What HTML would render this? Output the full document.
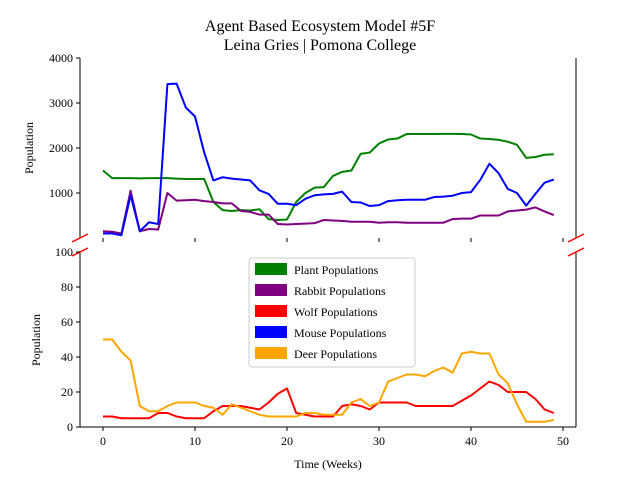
<!DOCTYPE html>
<html><head><meta charset="utf-8"><style>
body{margin:0;background:#fff}
svg{font-family:"Liberation Serif",serif}
</style></head><body>
<svg id="c" width="640" height="480"></svg>
<script>
const weeks=[...Array(50).keys()];
const plant=[1500,1330,1330,1330,1325,1330,1330,1330,1320,1310,1310,1310,800,620,600,620,610,640,420,400,410,800,1000,1120,1130,1380,1470,1500,1870,1900,2100,2190,2210,2310,2310,2310,2310,2315,2315,2310,2300,2210,2200,2180,2140,2070,1780,1800,1850,1860];
const rabbit=[150,140,100,1050,150,200,190,1000,830,840,850,820,800,770,770,600,580,520,520,310,300,310,320,330,400,390,380,360,360,360,340,350,350,340,340,340,340,340,420,430,430,500,500,500,590,610,630,680,590,510];
const mouse=[100,100,60,950,150,350,310,3420,3430,2900,2700,1900,1280,1350,1320,1300,1280,1060,980,760,760,730,870,950,970,980,1030,800,790,710,730,820,840,850,850,850,910,920,940,1000,1020,1290,1650,1440,1090,1000,720,980,1230,1300];
const wolf=[6,6,5,5,5,5,8,8,6,5,5,5,9,12,12,12,11,10,14,19,22,8,7,6,6,6,12,13,12,10,14,14,14,14,12,12,12,12,12,15,18,22,26,24,20,20,20,16,10,8];
const deer=[50,50,43,38,12,9,9,12,14,14,14,12,11,7,13,11,9,7,6,6,6,6,8,8,7,7,7,14,16,12,14,26,28,30,30,29,32,34,31,42,43,42,42,30,25,13,3,3,3,4];
const xTicks=[0,10,20,30,40,50];
const topTicks=[1000,2000,3000,4000];
const botTicks=[0,20,40,60,80,100];
const NS='http://www.w3.org/2000/svg';
const svg=document.getElementById('c');
function el(t,a,p){const e=document.createElementNS(NS,t);for(const k in a)e.setAttribute(k,a[k]);(p||svg).appendChild(e);return e;}
const X=v=>103+v*9.2;
const YT=v=>238-v*0.045;
const YB=v=>427-v*1.75;
const L=80,R=576;
// title
let t=el('text',{x:320,y:31,'text-anchor':'middle','font-size':16});t.textContent='Agent Based Ecosystem Model #5F';

t=el('text',{x:320,y:50,'text-anchor':'middle','font-size':16});t.textContent='Leina Gries | Pomona College';

// axes spines
let a=el('line',{x1:L,y1:58,x2:L,y2:238,stroke:'#000'});
a=el('line',{x1:R,y1:58,x2:R,y2:238,stroke:'#000'});
a=el('line',{x1:L,y1:252,x2:L,y2:427,stroke:'#000'});
a=el('line',{x1:R,y1:252,x2:R,y2:427,stroke:'#000'});
a=el('line',{x1:L,y1:427,x2:R,y2:427,stroke:'#000'});
// break marks
[[L,238],[R,238],[L,252],[R,252]].forEach(p=>{
 const b=el('line',{x1:p[0]-8,y1:p[1]+4,x2:p[0]+8,y2:p[1]-4,stroke:'red','stroke-width':1.5});
 
});
// x ticks
xTicks.forEach(v=>{
 el('line',{x1:X(v),y1:427,x2:X(v),y2:431,stroke:'#000'});
 el('line',{x1:X(v),y1:238,x2:X(v),y2:242,stroke:'#000'});
 const tx=el('text',{x:X(v),y:445,'text-anchor':'middle','font-size':12});tx.textContent=v;
 
});
topTicks.forEach(v=>{
 el('line',{x1:L-4,y1:YT(v),x2:L,y2:YT(v),stroke:'#000'});
 const tx=el('text',{x:L-7,y:YT(v)+4,'text-anchor':'end','font-size':12});tx.textContent=v;
 
});
botTicks.forEach(v=>{
 el('line',{x1:L-4,y1:YB(v),x2:L,y2:YB(v),stroke:'#000'});
 const tx=el('text',{x:L-7,y:YB(v)+4,'text-anchor':'end','font-size':12});tx.textContent=v;
 
});
t=el('text',{x:0,y:0,'text-anchor':'middle','font-size':12,transform:'translate(33,148) rotate(-90)'});t.textContent='Population';

t=el('text',{x:0,y:0,'text-anchor':'middle','font-size':12,transform:'translate(40,340) rotate(-90)'});t.textContent='Population';

t=el('text',{x:328,y:468,'text-anchor':'middle','font-size':12});t.textContent='Time (Weeks)';

function line(d,Y,c,name){
 const p=el('polyline',{points:d.map((v,i)=>X(weeks[i])+','+Y(v)).join(' '),fill:'none',stroke:c,'stroke-width':2,'stroke-linejoin':'round'});
 
}
line(plant,YT,'green','plant-line');
line(rabbit,YT,'purple','rabbit-line');
line(mouse,YT,'blue','mouse-line');
line(wolf,YB,'red','wolf-line');
line(deer,YB,'orange','deer-line');
// legend
const lg=el('g',{});
el('rect',{x:249,y:258,width:166,height:109,rx:3,fill:'#fff',stroke:'#ccc','fill-opacity':0.8},lg);
[['Plant Populations','green'],['Rabbit Populations','purple'],['Wolf Populations','red'],['Mouse Populations','blue'],['Deer Populations','orange']].forEach((e,i)=>{
 const y=263+i*21;
 const g=el('g',{},lg);
 el('rect',{x:255,y:y,width:32,height:12,fill:e[1]},g);
 const tx=el('text',{x:294,y:y+11,'font-size':12},g);tx.textContent=e[0];
});
</script>
</body></html>
